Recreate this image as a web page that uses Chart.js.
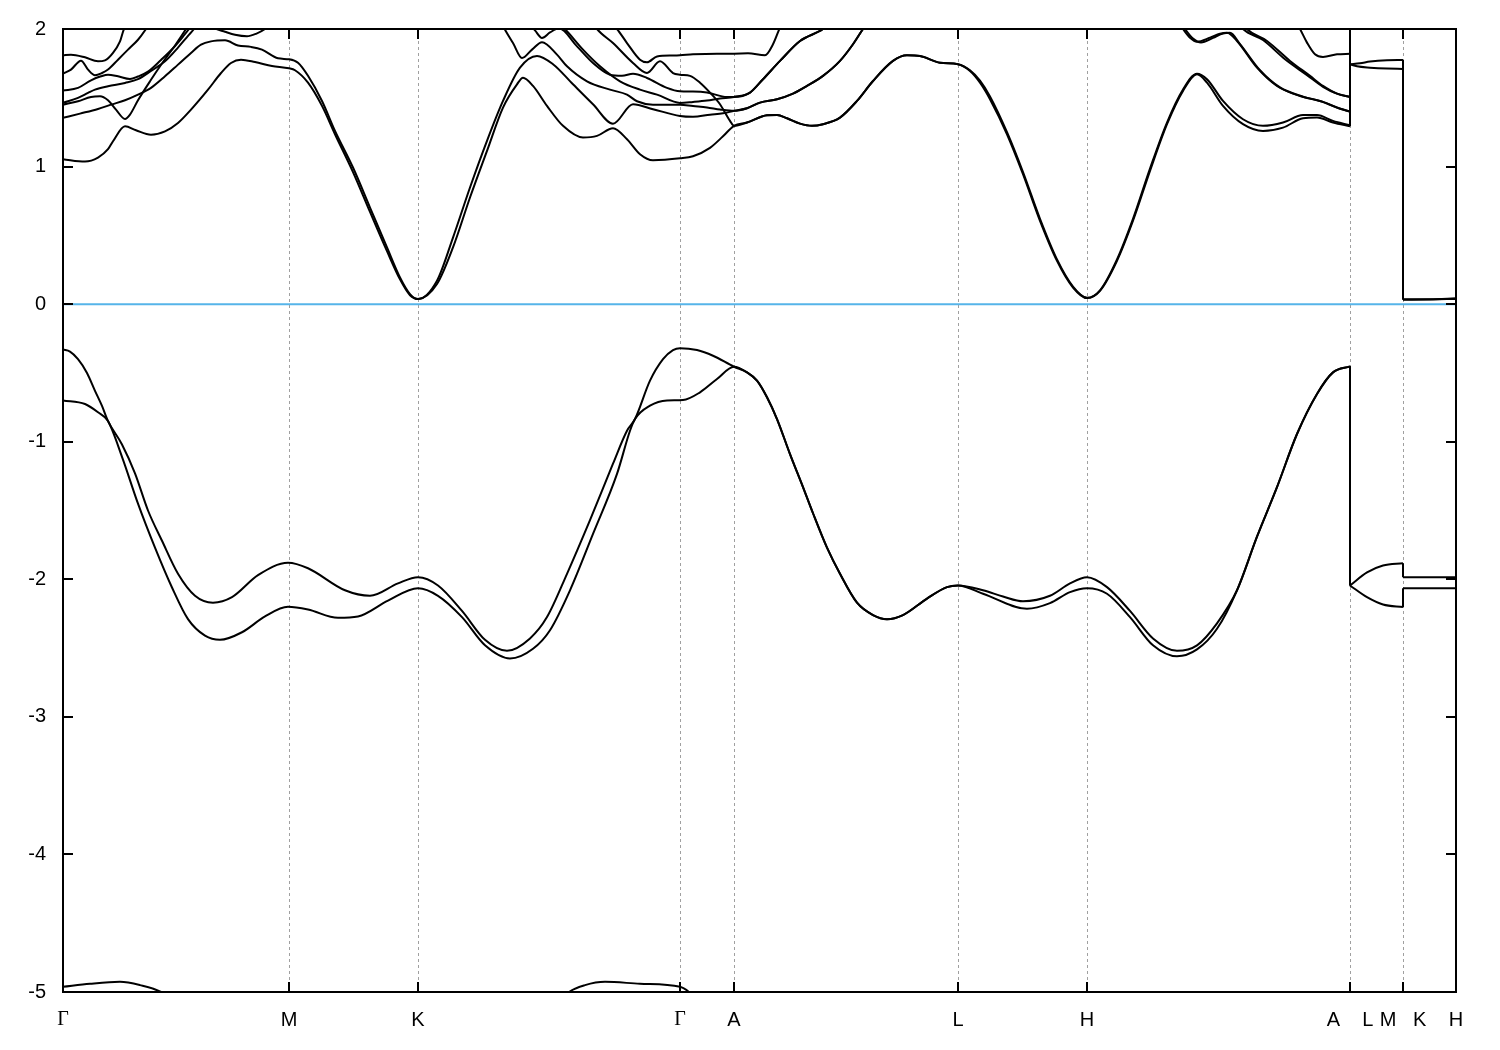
<!DOCTYPE html>
<html>
<head>
<meta charset="utf-8">
<script src="https://cdn.jsdelivr.net/npm/chart.js@4.4.0/dist/chart.umd.min.js"></script>
<style>
html, body { margin: 0; padding: 0; background: #fff; }
</style>
</head>
<body>
<canvas id="bandas" width="1500" height="1050"></canvas>
<script>
// camino en k: Γ-M-K-Γ-A-L-H-A|L-M|K-H
const kTicks = [0, 2.26, 3.55, 6.17, 6.71, 8.95, 10.24, 12.87, 13.40, 13.93];
const kLabels = ['Γ', 'M', 'K', 'Γ', 'A', 'L', 'H', 'A    L', 'M   K', 'H'];
const eTicks = [2, 1, 0, -1, -2, -3, -4, -5];
const fermiLevel = 0;

// bandas de valencia [k, E]
const vbUpper = [
  [0, -0.33], [0.07, -0.345], [0.15, -0.40], [0.24, -0.50], [0.32, -0.63], [0.39, -0.74], [0.45, -0.85],
  [0.59, -1.02], [0.72, -1.23], [0.85, -1.50], [0.99, -1.72], [1.15, -1.96], [1.32, -2.12], [1.50, -2.17],
  [1.69, -2.13], [1.95, -1.97], [2.25, -1.88], [2.45, -1.92], [2.82, -2.08], [3.07, -2.12], [3.35, -2.03],
  [3.55, -1.985], [3.75, -2.045], [3.99, -2.23], [4.22, -2.44], [4.44, -2.52], [4.67, -2.43], [4.84, -2.275],
  [5.04, -1.96], [5.27, -1.57], [5.50, -1.16], [5.64, -0.92], [5.72, -0.835], [5.87, -0.556], [6.00, -0.40],
  [6.10, -0.334], [6.17, -0.32], [6.34, -0.334], [6.50, -0.375], [6.71, -0.455],
  [6.84, -0.496], [6.94, -0.556], [7.04, -0.677], [7.14, -0.835], [7.27, -1.09], [7.40, -1.33], [7.50, -1.52],
  [7.64, -1.77], [7.77, -1.96], [7.94, -2.17], [8.10, -2.26], [8.24, -2.29], [8.40, -2.26], [8.64, -2.14],
  [8.84, -2.057], [8.95, -2.045],
  [9.20, -2.08], [9.40, -2.125], [9.60, -2.16], [9.87, -2.12], [10.07, -2.03], [10.24, -1.985], [10.44, -2.057],
  [10.67, -2.23], [10.90, -2.43], [11.14, -2.52], [11.34, -2.48], [11.54, -2.32], [11.74, -2.08], [11.94, -1.69],
  [12.14, -1.33], [12.34, -0.944], [12.54, -0.653], [12.70, -0.496], [12.87, -0.452],
  [12.87, -2.045], [13.04, -1.95], [13.20, -1.90], [13.40, -1.883],
  [13.40, -1.985], [13.67, -1.985], [13.93, -1.985]
];
const vbLower = [
  [0, -0.70], [0.22, -0.726], [0.35, -0.786], [0.45, -0.85], [0.59, -1.11], [0.75, -1.45], [0.92, -1.77],
  [1.09, -2.06], [1.25, -2.29], [1.42, -2.41], [1.57, -2.44], [1.79, -2.385], [2.02, -2.27], [2.25, -2.20],
  [2.45, -2.22], [2.75, -2.28], [2.95, -2.27], [3.25, -2.155], [3.55, -2.065], [3.75, -2.12], [3.99, -2.275],
  [4.22, -2.48], [4.47, -2.576], [4.70, -2.505], [4.87, -2.37], [5.07, -2.08], [5.30, -1.67], [5.54, -1.234],
  [5.67, -0.92], [5.72, -0.835], [5.87, -0.738], [6.04, -0.70], [6.20, -0.697], [6.37, -0.641], [6.54, -0.544],
  [6.71, -0.455],
  [6.84, -0.496], [6.94, -0.556], [7.04, -0.677], [7.14, -0.835], [7.27, -1.09], [7.40, -1.33], [7.50, -1.52],
  [7.64, -1.77], [7.77, -1.96], [7.94, -2.17], [8.10, -2.26], [8.24, -2.29], [8.40, -2.26], [8.64, -2.14],
  [8.84, -2.057], [8.95, -2.045],
  [9.20, -2.105], [9.64, -2.214], [9.87, -2.173], [10.07, -2.093], [10.24, -2.065], [10.44, -2.105], [10.67, -2.275],
  [10.90, -2.48], [11.14, -2.56], [11.34, -2.51], [11.54, -2.36], [11.74, -2.08], [11.94, -1.69], [12.14, -1.33],
  [12.34, -0.944], [12.54, -0.653], [12.70, -0.496], [12.87, -0.452],
  [12.87, -2.045], [13.04, -2.13], [13.20, -2.183], [13.40, -2.202],
  [13.40, -2.065], [13.67, -2.065], [13.93, -2.065]
];
const deepBand = [
  [0, -4.962], [0.27, -4.94], [0.57, -4.926], [0.77, -4.95], [0.98, -5.0], [1.2, -5.12], [3.2, -5.5],
  [4.9, -5.12], [5.06, -5.0], [5.22, -4.95], [5.42, -4.926], [5.77, -4.94], [6.17, -4.962], [6.26, -5.0],
  [6.4, -5.1], [6.71, -5.25]
];

// bandas de conduccion [k, E]
const cb1 = [
  [0, 1.054], [0.22, 1.036], [0.35, 1.065], [0.45, 1.126], [0.50, 1.184], [0.62, 1.293], [0.73, 1.264], [0.88, 1.232],
  [1.02, 1.256], [1.15, 1.317], [1.28, 1.414], [1.45, 1.559], [1.58, 1.68], [1.68, 1.753], [1.78, 1.777], [1.92, 1.76],
  [2.09, 1.731], [2.26, 1.714], [2.32, 1.70], [2.45, 1.61], [2.59, 1.441], [2.72, 1.235], [2.90, 0.96], [3.07, 0.67],
  [3.24, 0.385], [3.37, 0.18], [3.47, 0.065], [3.55, 0.037], [3.74, 0.146], [3.90, 0.412], [4.07, 0.775], [4.24, 1.114],
  [4.40, 1.429], [4.54, 1.598], [4.60, 1.646], [4.70, 1.586], [4.84, 1.441], [5.00, 1.296], [5.20, 1.211], [5.34, 1.223],
  [5.50, 1.279], [5.64, 1.199], [5.77, 1.09], [5.90, 1.046], [6.17, 1.06], [6.30, 1.075], [6.47, 1.136], [6.60, 1.22],
  [6.71, 1.296], [6.84, 1.32], [7.04, 1.373], [7.14, 1.375], [7.24, 1.351], [7.37, 1.312], [7.49, 1.296], [7.60, 1.308],
  [7.77, 1.356], [7.94, 1.477], [8.10, 1.622], [8.30, 1.768], [8.44, 1.809], [8.57, 1.804], [8.77, 1.755], [8.95, 1.744],
  [9.07, 1.695], [9.17, 1.61], [9.27, 1.49], [9.44, 1.235], [9.60, 0.945], [9.77, 0.606], [9.94, 0.315], [10.10, 0.121],
  [10.24, 0.044], [10.37, 0.097], [10.54, 0.315], [10.70, 0.606], [10.87, 0.969], [11.04, 1.308], [11.20, 1.55], [11.34, 1.671],
  [11.44, 1.61], [11.60, 1.441], [11.80, 1.308], [12.00, 1.259], [12.20, 1.283], [12.40, 1.351], [12.54, 1.356], [12.70, 1.32],
  [12.87, 1.293], [12.87, 1.744], [12.94, 1.729], [13.07, 1.719], [13.24, 1.712], [13.40, 1.71],
  [13.40, 0.032], [13.67, 0.034], [13.93, 0.038]
];
const cb2 = [
  [0, 1.354], [0.17, 1.385], [0.35, 1.419], [0.48, 1.45], [0.62, 1.482], [0.75, 1.523], [0.88, 1.572], [1.02, 1.656],
  [1.15, 1.741], [1.28, 1.826], [1.38, 1.886], [1.48, 1.91], [1.62, 1.918], [1.75, 1.88], [1.88, 1.87], [1.99, 1.85],
  [2.15, 1.787], [2.26, 1.78], [2.35, 1.755], [2.45, 1.66], [2.59, 1.477], [2.72, 1.259], [2.90, 0.993], [3.07, 0.702],
  [3.24, 0.412], [3.37, 0.194], [3.47, 0.073], [3.55, 0.037], [3.74, 0.17], [3.90, 0.484], [4.07, 0.848], [4.24, 1.187],
  [4.40, 1.477], [4.57, 1.719], [4.74, 1.804], [4.90, 1.744], [5.10, 1.598], [5.30, 1.453], [5.50, 1.312], [5.70, 1.453],
  [5.90, 1.417], [6.17, 1.368], [6.30, 1.362], [6.47, 1.377], [6.60, 1.387], [6.71, 1.405], [6.84, 1.424], [6.97, 1.465],
  [7.14, 1.489], [7.30, 1.53], [7.44, 1.586], [7.60, 1.659], [7.77, 1.768], [7.90, 1.889], [8.00, 2.0], [8.20, 2.2],
  [8.95, 2.5], [10.24, 2.6], [10.90, 2.4], [11.12, 2.08], [11.20, 2.0], [11.27, 1.937], [11.34, 1.908], [11.47, 1.937],
  [11.57, 1.966], [11.64, 1.973], [11.74, 1.913], [11.94, 1.719], [12.14, 1.586], [12.37, 1.513], [12.57, 1.477],
  [12.74, 1.429], [12.87, 1.40], [12.87, 2.4]
];
const cb3 = [
  [0, 1.45], [0.15, 1.475], [0.28, 1.506], [0.37, 1.511], [0.45, 1.482], [0.53, 1.414], [0.62, 1.346], [0.67, 1.378],
  [0.75, 1.482], [0.87, 1.62], [1.00, 1.76], [1.12, 1.88], [1.23, 2.0], [1.40, 2.2], [2.26, 2.5], [3.55, 2.6], [4.20, 2.3],
  [4.42, 1.995], [4.50, 1.898], [4.59, 1.789], [4.69, 1.85], [4.79, 1.904], [4.94, 1.814], [5.04, 1.729], [5.24, 1.62],
  [5.47, 1.559], [5.64, 1.523], [5.74, 1.475], [5.90, 1.45], [6.17, 1.45], [6.30, 1.44], [6.44, 1.43], [6.57, 1.415],
  [6.71, 1.405], [6.84, 1.424], [6.97, 1.465], [7.14, 1.489], [7.30, 1.53], [7.44, 1.586], [7.60, 1.659], [7.77, 1.768],
  [7.90, 1.889], [8.00, 2.0], [8.20, 2.2], [8.95, 2.5], [10.24, 2.6], [10.90, 2.4], [11.15, 2.08], [11.22, 2.0],
  [11.30, 1.93], [11.38, 1.902], [11.50, 1.935], [11.60, 1.968], [11.67, 1.972], [11.77, 1.89], [11.97, 1.70],
  [12.17, 1.575], [12.40, 1.508], [12.60, 1.47], [12.77, 1.42], [12.87, 1.40], [12.87, 2.4]
];
const cb4 = [
  [0, 1.552], [0.15, 1.572], [0.28, 1.627], [0.38, 1.656], [0.45, 1.668], [0.55, 1.656], [0.67, 1.637], [0.75, 1.655],
  [0.85, 1.69], [0.98, 1.775], [1.10, 1.86], [1.20, 1.945], [1.26, 2.0], [1.45, 2.2], [2.26, 2.5], [3.55, 2.7], [4.40, 2.3],
  [4.65, 2.05], [4.72, 1.99], [4.79, 1.935], [4.87, 1.975], [4.96, 2.005], [5.14, 1.874], [5.30, 1.753], [5.47, 1.668],
  [5.59, 1.66], [5.70, 1.675], [5.84, 1.644], [6.04, 1.572], [6.17, 1.547], [6.30, 1.545], [6.44, 1.538], [6.64, 1.506],
  [6.71, 1.506], [6.87, 1.538], [7.00, 1.635], [7.17, 1.768], [7.37, 1.913], [7.60, 2.0], [7.90, 2.2], [8.95, 2.5],
  [10.24, 2.6], [11.30, 2.4], [11.70, 2.15], [11.84, 2.0], [12.04, 1.913], [12.27, 1.768], [12.47, 1.659], [12.60, 1.586],
  [12.74, 1.53], [12.87, 1.506], [12.87, 2.4]
];
const cb5 = [
  [0, 1.463], [0.15, 1.499], [0.25, 1.535], [0.32, 1.559], [0.45, 1.584], [0.62, 1.608], [0.75, 1.635], [0.88, 1.695],
  [1.02, 1.765], [1.15, 1.865], [1.25, 1.95], [1.31, 2.0], [1.50, 2.2], [2.26, 2.5], [3.55, 2.7], [4.50, 2.3], [4.90, 2.08],
  [5.02, 2.0], [5.20, 1.85], [5.37, 1.729], [5.57, 1.62], [5.77, 1.559], [5.94, 1.523], [6.17, 1.463], [6.30, 1.47],
  [6.44, 1.48], [6.57, 1.495], [6.71, 1.506], [6.87, 1.538], [7.00, 1.635], [7.17, 1.768], [7.37, 1.913], [7.60, 2.0],
  [7.90, 2.2], [8.95, 2.5], [10.24, 2.6], [11.30, 2.4], [11.65, 2.15], [11.80, 2.0], [12.00, 1.92], [12.22, 1.78],
  [12.44, 1.665], [12.60, 1.58], [12.74, 1.53], [12.87, 1.506], [12.87, 2.4]
];
const cb6 = [
  [0, 1.676], [0.08, 1.705], [0.18, 1.77], [0.25, 1.705], [0.32, 1.664], [0.39, 1.68], [0.45, 1.705], [0.55, 1.777],
  [0.65, 1.85], [0.75, 1.922], [0.83, 2.0], [1.00, 2.2], [2.26, 2.5], [3.55, 2.7], [5.00, 2.3], [5.25, 2.1], [5.34, 2.0],
  [5.50, 1.898], [5.70, 1.753], [5.84, 1.68], [5.97, 1.765], [6.10, 1.68], [6.17, 1.668], [6.27, 1.659], [6.37, 1.61],
  [6.47, 1.538], [6.57, 1.453], [6.67, 1.332], [6.71, 1.296], [6.84, 1.32], [7.04, 1.373], [7.14, 1.375], [7.24, 1.351],
  [7.37, 1.312], [7.49, 1.296], [7.60, 1.308], [7.77, 1.356], [7.94, 1.477], [8.10, 1.622], [8.30, 1.768], [8.44, 1.809],
  [8.57, 1.804], [8.77, 1.755], [8.95, 1.744],
  [9.07, 1.70], [9.17, 1.625], [9.27, 1.51], [9.44, 1.25], [9.60, 0.96], [9.77, 0.62], [9.94, 0.325], [10.10, 0.128],
  [10.24, 0.046], [10.37, 0.10], [10.54, 0.325], [10.70, 0.62], [10.87, 0.985], [11.04, 1.32], [11.20, 1.56], [11.34, 1.675],
  [11.44, 1.635], [11.60, 1.477], [11.80, 1.344], [12.00, 1.296], [12.20, 1.32], [12.40, 1.375], [12.54, 1.375], [12.70, 1.332],
  [12.87, 1.30], [12.87, 1.744], [12.97, 1.751], [13.07, 1.763], [13.24, 1.773], [13.40, 1.775],
  [13.40, 0.035], [13.67, 0.036], [13.93, 0.042]
];
const cb7 = [
  [0, 1.809], [0.08, 1.813], [0.22, 1.794], [0.35, 1.765], [0.42, 1.772], [0.50, 1.826], [0.57, 1.91], [0.61, 2.0],
  [0.77, 2.12], [1.40, 2.06], [1.50, 2.01], [1.62, 1.98], [1.72, 1.958], [1.84, 1.947], [1.93, 1.965], [2.02, 2.0],
  [2.17, 2.1], [3.55, 2.6], [5.00, 2.4], [5.40, 2.1], [5.54, 2.0], [5.64, 1.898], [5.77, 1.777], [5.84, 1.758],
  [5.94, 1.80], [6.10, 1.807], [6.17, 1.809], [6.30, 1.816], [6.54, 1.821], [6.71, 1.821], [6.85, 1.823], [7.02, 1.809],
  [7.10, 1.889], [7.17, 2.01], [7.40, 2.3], [8.95, 2.6], [10.24, 2.7], [11.50, 2.6], [12.20, 2.2], [12.37, 2.0],
  [12.44, 1.901], [12.52, 1.816], [12.60, 1.797], [12.74, 1.816], [12.87, 1.82], [12.87, 2.5]
];

const allBands = [vbUpper, vbLower, deepBand, cb1, cb2, cb3, cb4, cb5, cb6, cb7];

// parte cada banda donde k se repite (saltos A|L y M|K)
function trozos(band) {
  const out = [[]];
  band.forEach(([k, e], i) => {
    if (i > 0 && k === band[i - 1][0]) out.push([]);
    out[out.length - 1].push({ x: k, y: e });
  });
  return out;
}

const datasets = [{
  data: [{ x: kTicks[0], y: fermiLevel }, { x: kTicks[kTicks.length - 1], y: fermiLevel }],
  borderColor: '#56b4e9', borderWidth: 2, tension: 0
}];

allBands.forEach(band => {
  const partes = trozos(band);
  partes.forEach((p, i) => {
    datasets.push({ data: p, borderColor: '#000', borderWidth: 2, cubicInterpolationMode: 'monotone' });
    if (i > 0) {
      const prev = partes[i - 1][partes[i - 1].length - 1];
      datasets.push({ data: [prev, p[0]], borderColor: '#000', borderWidth: 2, tension: 0 });
    }
  });
});

const marco = {
  id: 'marco',
  afterDatasetsDraw(chart) {
    const { ctx, chartArea: a, scales } = chart;
    ctx.save();
    ctx.strokeStyle = '#000';
    ctx.lineWidth = 2;
    ctx.strokeRect(a.left, a.top, a.right - a.left, a.bottom - a.top);
    ctx.beginPath();
    kTicks.forEach(v => {
      const x = Math.round(scales.x.getPixelForValue(v));
      ctx.moveTo(x, a.bottom); ctx.lineTo(x, a.bottom - 10);
      ctx.moveTo(x, a.top); ctx.lineTo(x, a.top + 10);
    });
    eTicks.forEach(v => {
      const y = Math.round(scales.y.getPixelForValue(v));
      ctx.moveTo(a.left, y); ctx.lineTo(a.left + 10, y);
      ctx.moveTo(a.right, y); ctx.lineTo(a.right - 10, y);
    });
    ctx.stroke();
    ctx.restore();
  }
};

new Chart(document.getElementById('bandas').getContext('2d'), {
  type: 'line',
  data: { datasets: datasets },
  plugins: [marco],
  options: {
    responsive: false,
    animation: false,
    layout: { padding: { top: 28, right: 44, left: 0, bottom: 0 } },
    elements: { point: { radius: 0, hoverRadius: 0 }, line: { capBezierPoints: false, fill: false } },
    plugins: { legend: { display: false }, tooltip: { enabled: false } },
    scales: {
      x: {
        type: 'linear', min: kTicks[0], max: kTicks[kTicks.length - 1],
        afterBuildTicks: s => { s.ticks = kTicks.map(v => ({ value: v })); },
        afterFit: s => { s.height = 58; },
        grid: { color: '#a0a0a0', lineWidth: 1, drawTicks: false },
        border: { display: false, dash: [3, 3] },
        ticks: {
          autoSkip: false, maxRotation: 0, padding: 16, color: '#000',
          font: c => ({ family: kLabels[c.index] === 'Γ' ? 'Liberation Serif' : 'Liberation Sans', size: 20 }),
          callback: (v, i) => kLabels[i]
        }
      },
      y: {
        min: -5, max: 2,
        afterBuildTicks: s => { s.ticks = eTicks.map(v => ({ value: v })); },
        afterFit: s => { s.width = 63; },
        grid: { display: false, drawTicks: false },
        border: { display: false },
        ticks: { padding: 17, color: '#000', font: { family: 'Liberation Sans', size: 20 } }
      }
    }
  }
});
</script>
</body>
</html>
